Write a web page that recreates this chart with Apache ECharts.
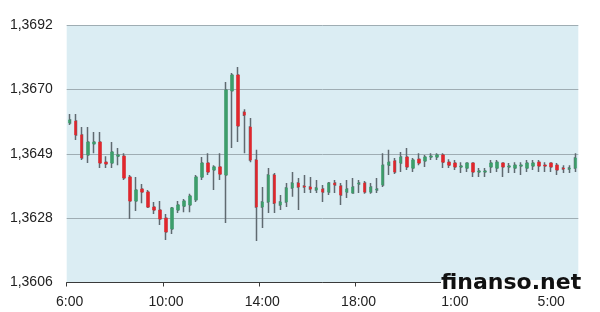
<!DOCTYPE html>
<html>
<head>
<meta charset="utf-8">
<script src="https://cdn.jsdelivr.net/npm/echarts@6/dist/echarts.min.js"></script>
<style>html,body{margin:0;padding:0;background:#fff}#c{width:600px;height:312px}</style>
</head>
<body>
<div id="c"></div>
<script>
// 15-minute candles; categories are times
const sessions = [["6", 64], ["1", 21]]; // start hour, number of candles
const xTickLabels = ["6:00", "10:00", "14:00", "18:00", "1:00", "5:00"];
const yTickValues = [1.3606, 1.36275, 1.3649, 1.36705, 1.3692];
const yTickLabels = ["1,3606", "1,3628", "1,3649", "1,3670", "1,3692"];

const opens = [1.36593,1.36599,1.36553,1.36486,1.36523,1.36529,1.36462,1.36459,1.36482,1.36482,
1.36412,1.36332,1.36372,1.36362,1.36312,1.36302,1.36275,1.36239,1.36302,1.36315,
1.36319,1.36336,1.36412,1.36459,1.36436,1.36446,1.36419,1.36700,1.36753,1.36629,
1.36579,1.36469,1.36312,1.36329,1.36419,1.36319,1.36329,1.36376,1.36392,1.36382,
1.36379,1.36369,1.36372,1.36362,1.36392,1.36382,1.36362,1.36359,1.36389,1.36392,
1.36362,1.36369,1.36386,1.36452,1.36466,1.36459,1.36479,1.36442,1.36472,1.36466,
1.36479,1.36479,1.36486,1.36462,1.36459,1.36446,1.36442,1.36459,1.36429,1.36429,
1.36446,1.36442,1.36459,1.36446,1.36442,1.36449,1.36442,1.36449,1.36462,1.36452,
1.36459,1.36452,1.36442,1.36439,1.36442];
const closes = [1.36603,1.36553,1.36476,1.36529,1.36529,1.36459,1.36456,1.36496,1.36486,1.36409,
1.36332,1.36369,1.36362,1.36312,1.36302,1.36272,1.36229,1.36309,1.36319,1.36332,
1.36349,1.36412,1.36459,1.36429,1.36446,1.36422,1.36703,1.36753,1.36583,1.36619,
1.36469,1.36312,1.36329,1.36419,1.36325,1.36329,1.36376,1.36392,1.36379,1.36379,
1.36372,1.36376,1.36362,1.36392,1.36386,1.36352,1.36372,1.36379,1.36392,1.36362,
1.36379,1.36372,1.36452,1.36462,1.36429,1.36479,1.36446,1.36469,1.36459,1.36479,
1.36482,1.36486,1.36462,1.36452,1.36446,1.36449,1.36459,1.36429,1.36432,1.36432,
1.36459,1.36462,1.36446,1.36449,1.36452,1.36452,1.36459,1.36459,1.36449,1.36449,
1.36446,1.36436,1.36439,1.36442,1.36476];
const lows = [1.36586,1.36536,1.36469,1.36459,1.36492,1.36442,1.36442,1.36442,1.36452,1.36402,
1.36272,1.36299,1.36325,1.36309,1.36289,1.36252,1.36202,1.36222,1.36292,1.36295,
1.36295,1.36329,1.36402,1.36419,1.36369,1.36402,1.36259,1.36509,1.36529,1.36492,
1.36462,1.36199,1.36242,1.36292,1.36292,1.36302,1.36312,1.36346,1.36302,1.36359,
1.36359,1.36359,1.36329,1.36352,1.36359,1.36319,1.36342,1.36356,1.36359,1.36356,
1.36356,1.36359,1.36379,1.36419,1.36422,1.36429,1.36436,1.36429,1.36452,1.36446,
1.36469,1.36469,1.36442,1.36442,1.36436,1.36426,1.36429,1.36412,1.36412,1.36412,
1.36426,1.36429,1.36412,1.36426,1.36426,1.36419,1.36429,1.36436,1.36429,1.36429,
1.36429,1.36419,1.36426,1.36426,1.36429];
const highs = [1.36623,1.36623,1.36579,1.36579,1.36563,1.36563,1.36482,1.36529,1.36509,1.36492,
1.36419,1.36412,1.36389,1.36369,1.36329,1.36332,1.36289,1.36312,1.36332,1.36339,
1.36356,1.36419,1.36479,1.36492,1.36452,1.36492,1.36730,1.36760,1.36780,1.36639,
1.36609,1.36503,1.36379,1.36442,1.36426,1.36352,1.36392,1.36429,1.36409,1.36419,
1.36412,1.36402,1.36386,1.36396,1.36402,1.36392,1.36402,1.36409,1.36402,1.36399,
1.36392,1.36409,1.36492,1.36503,1.36476,1.36496,1.36509,1.36476,1.36492,1.36486,
1.36492,1.36492,1.36492,1.36472,1.36469,1.36462,1.36462,1.36462,1.36442,1.36442,
1.36469,1.36469,1.36462,1.36459,1.36462,1.36462,1.36469,1.36469,1.36469,1.36462,
1.36462,1.36459,1.36452,1.36452,1.36492];

// build categories
const categories = [];
sessions.forEach(([h, n]) => {
  let m = parseInt(h, 10) * 60;
  for (let i = 0; i < n; i++) {
    const t = (m + i * 15) % 1440;
    categories.push(Math.floor(t / 60) + ":" + String(t % 60).padStart(2, "0"));
  }
});

const wickData = opens.map((o, i) => [o, closes[i], lows[i], highs[i]]);
const bodyData = opens.map((o, i) => [o, closes[i], Math.min(o, closes[i]), Math.max(o, closes[i])]);

const FONT = "'Liberation Sans', Arial, sans-serif";
const chart = echarts.init(document.getElementById('c'), null, {renderer: 'canvas'});
chart.setOption({
  animation: false,
  backgroundColor: '#ffffff',
  grid: {
    left: 66.7, right: 21.7, top: 25, bottom: 29.5,
    show: true, backgroundColor: '#dbedf3', borderWidth: 0
  },
  xAxis: {
    type: 'category',
    data: categories,
    boundaryGap: true,
    axisLine: {lineStyle: {color: '#3a3a3a', width: 1}},
    axisTick: {show: true, interval: 15, length: 4, lineStyle: {color: '#3a3a3a'}},
    axisLabel: {
      interval: 15, margin: 13, color: '#222', fontSize: 14, fontFamily: FONT,
      formatter: (v, idx) => xTickLabels[Math.round(idx / 16)] || v
    },
    splitLine: {show: false}
  },
  yAxis: {
    type: 'value',
    min: yTickValues[0],
    max: yTickValues[yTickValues.length - 1],
    axisLine: {show: false},
    axisTick: {show: false, customValues: yTickValues},
    axisLabel: {
      customValues: yTickValues, margin: 14, color: '#222', fontSize: 14, fontFamily: FONT,
      formatter: (v) => {
        let best = 0;
        yTickValues.forEach((t, i) => { if (Math.abs(t - v) < Math.abs(yTickValues[best] - v)) best = i; });
        return yTickLabels[best];
      }
    },
    splitLine: {show: true, lineStyle: {color: '#9fadb3', width: 1}}
  },
  series: [
    {
      type: 'candlestick',
      data: wickData,
      barWidth: 1.5,
      itemStyle: {color: '#5f6a70', color0: '#5f6a70', borderColor: '#5f6a70', borderColor0: '#5f6a70', borderWidth: 1.5}
    },
    {
      type: 'candlestick',
      data: bodyData,
      barWidth: 3,
      itemStyle: {color: '#3c9e6b', color0: '#e2262c', borderColor: '#3c9e6b', borderColor0: '#e2262c', borderWidth: 0.5}
    }
  ],
  graphic: [
    {type: 'rect', left: 441, top: 280, shape: {width: 159, height: 14}, style: {fill: '#ffffff'}, z: 100},
    {type: 'text', left: 441, top: 272, z: 101,
     style: {text: 'finanso.net', fill: '#111', font: "bold 22px 'DejaVu Sans', sans-serif"}}
  ]
});
</script>
</body>
</html>
